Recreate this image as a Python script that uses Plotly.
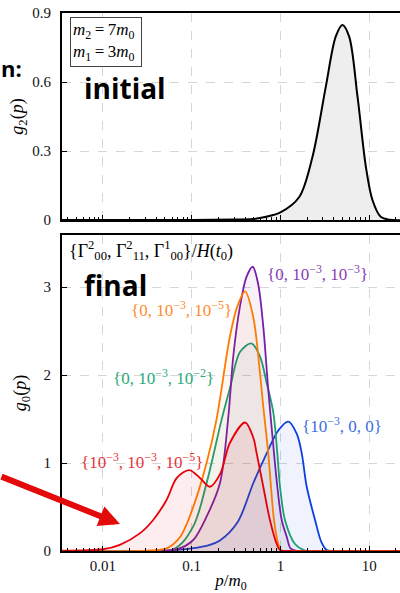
import plotly.graph_objects as go

# ---------------- data ----------------
p_init = [0.003, 0.1, 0.3, 0.49, 0.69, 1.0, 1.63, 2.3, 3.25, 4.2, 5.0, 5.96, 7.4, 9.2, 10.9, 13.5, 17, 25]
g_init = [0, 0.0005, 0.002, 0.004, 0.014, 0.033, 0.10, 0.275, 0.58, 0.797, 0.848, 0.797, 0.536, 0.23, 0.087, 0.014, 0.001, 0]

p_blue = [0.003, 0.05, 0.1, 0.16, 0.208, 0.33, 0.494, 0.70, 0.946, 1.23, 1.53, 1.74, 1.98, 2.46, 2.9, 3.33, 4.0, 25]
g_blue = [0, 0.005, 0.03, 0.07, 0.12, 0.33, 0.77, 1.11, 1.37, 1.47, 1.33, 1.11, 0.73, 0.35, 0.10, 0.01, 0, 0]

p_green = [0.003, 0.062, 0.104, 0.147, 0.217, 0.27, 0.35, 0.47, 0.589, 0.70, 0.83, 0.923, 0.99, 1.128, 1.46, 1.89, 2.5, 25]
g_green = [0, 0.02, 0.28, 0.77, 1.49, 1.85, 2.26, 2.36, 2.21, 1.91, 1.58, 1.11, 0.73, 0.35, 0.08, 0.005, 0, 0]

p_purple = [0.003, 0.068, 0.104, 0.147, 0.208, 0.26, 0.294, 0.35, 0.417, 0.487, 0.56, 0.641, 0.73, 0.847, 0.923, 1.035, 1.18, 1.3, 1.53, 2.0, 25]
g_purple = [0, 0.02, 0.125, 0.39, 0.77, 1.55, 2.21, 2.78, 3.12, 3.23, 3.04, 2.55, 1.83, 1.11, 0.73, 0.35, 0.16, 0.03, 0.002, 0, 0]

p_orange = [0.003, 0.03, 0.052, 0.074, 0.104, 0.147, 0.19, 0.27, 0.327, 0.40, 0.494, 0.589, 0.641, 0.73, 0.783, 0.847, 0.946, 1.035, 1.3, 25]
g_orange = [0, 0.004, 0.03, 0.16, 0.50, 1.0, 1.49, 2.44, 2.78, 2.95, 2.66, 2.02, 1.64, 1.11, 0.73, 0.35, 0.08, 0.005, 0, 0]

p_red = [0.003, 0.01, 0.0155, 0.026, 0.0366, 0.052, 0.068, 0.094, 0.124, 0.16, 0.21, 0.27, 0.40, 0.494, 0.54, 0.641, 0.763, 0.909, 0.99, 1.2, 25]
g_red = [0.003, 0.02, 0.07, 0.2, 0.35, 0.58, 0.83, 0.92, 0.83, 0.73, 0.88, 1.23, 1.46, 1.29, 1.11, 0.73, 0.35, 0.08, 0.01, 0, 0]

x_tickvals = [0.01, 0.1, 1, 10]
x_ticktext = ["0.01", "0.1", "1", "10"]
y_top_ticks = [0, 0.3, 0.6, 0.9]
y_top_text = ["0", "0.3", "0.6", "0.9"]
y_bot_ticks = [0, 1, 2, 3]
y_bot_text = ["0", "1", "2", "3"]

labels = {
    "purple": "{0, 10<sup>−3</sup>, 10<sup>−3</sup>}",
    "orange": "{0, 10<sup>−3</sup>, 10<sup>−5</sup>}",
    "green": "{0, 10<sup>−3</sup>, 10<sup>−2</sup>}",
    "blue": "{10<sup>−3</sup>, 0, 0}",
    "red": "{10<sup>−3</sup>, 10<sup>−3</sup>, 10<sup>−5</sup>}",
}

# ---------------- styling ----------------
SERIF = "Liberation Serif"
SANS = "Open Sans"
W, H = 400, 593
# plot-area edges in pixels
SL, SR, ST, SB = 62, 400, 13, 551


def px(xp):
    return (xp - SL) / (SR - SL)


def py(yp):
    return (SB - yp) / (SB - ST)


line_col = {"blue": "#0a3fe0", "green": "#1b9e72", "purple": "#7a1ea6",
            "orange": "#ff7a00", "red": "#e6000a"}
fill_col = {"blue": "rgba(40,90,230,0.07)", "green": "rgba(30,160,110,0.05)",
            "purple": "rgba(120,30,160,0.06)", "orange": "rgba(255,120,0,0.05)",
            "red": "rgba(230,0,10,0.07)"}
label_col = {"blue": "#3a6ee6", "green": "#2aaa7c", "purple": "#8a3cb4",
             "orange": "#ff8c2e", "red": "#e8323a"}

fig = go.Figure()

# top panel
fig.add_trace(go.Scatter(x=p_init, y=g_init, mode="lines", line=dict(color="black", width=2, shape="spline", smoothing=0.9),
                         fill="tozeroy", fillcolor="#eeeeee", xaxis="x2", yaxis="y2", showlegend=False))

series = [("blue", p_blue, g_blue), ("green", p_green, g_green), ("purple", p_purple, g_purple),
          ("orange", p_orange, g_orange), ("red", p_red, g_red)]
for name, pp, gg in series:
    fig.add_trace(go.Scatter(x=pp, y=gg, mode="lines",
                             line=dict(color=line_col[name], width=1.8, shape="spline", smoothing=0.9),
                             fill="tozeroy", fillcolor=fill_col[name], xaxis="x", yaxis="y", showlegend=False))

xr = [-2.462, 1.348]
ax_common = dict(showline=True, linecolor="black", linewidth=1.8, ticks="inside", tickcolor="black",
                 ticklen=5, tickwidth=1.2, showgrid=True, gridcolor="#d6d6d6", griddash="dash",
                 gridwidth=1, zeroline=False, automargin=False, ticklabeloverflow="allow",
                 tickfont=dict(family=SERIF, size=15, color="#111"))
x_common = dict(ax_common, type="log", range=xr, tickvals=x_tickvals, ticktext=x_ticktext, mirror=True,
                minor=dict(ticks="inside", ticklen=3, tickwidth=1, tickcolor="black", showgrid=False, dtick="D1"))

top_dom = [py(220), 1.0]
bot_dom = [0.0, py(235)]
tfont = dict(family=SERIF, size=18, color="black")

fig.update_layout(
    width=W, height=H,
    margin=dict(l=SL, r=W - SR, t=ST, b=H - SB, autoexpand=False),
    plot_bgcolor="white", paper_bgcolor="white",
    xaxis=dict(x_common, domain=[0, 1], anchor="y", showticklabels=True,
               title=dict(text="<i>p</i>/<i>m</i><sub>0</sub>", font=dict(family=SERIF, size=17, color="black"), standoff=2)),
    yaxis=dict(ax_common, domain=bot_dom, anchor="x", range=[0, (SB - 235) / 88.0], tickvals=y_bot_ticks,
               ticktext=y_bot_text, mirror=False, ticklabelstandoff=6,
               title=dict(text="<i>g</i><sub>0</sub>(<i>p</i>)", font=tfont, standoff=12)),
    xaxis2=dict(x_common, domain=[0, 1], anchor="y2", matches="x", showticklabels=False),
    yaxis2=dict(ax_common, domain=top_dom, anchor="x2", range=[0, 0.9], tickvals=y_top_ticks,
                ticktext=y_top_text, mirror=False, ticklabelstandoff=6,
                title=dict(text="<i>g</i><sub>2</sub>(<i>p</i>)", font=tfont, standoff=4)),
)

ann = []
# panel words
ann.append(dict(text="<b>initial</b>", x=px(82), y=py(88), xanchor="left", yanchor="middle",
                font=dict(family=SANS, size=28, color="black")))
ann.append(dict(text="<b>final</b>", x=px(82), y=py(285), xanchor="left", yanchor="middle",
                font=dict(family=SANS, size=28, color="black")))
ann.append(dict(text="<b>n:</b>", x=px(24), y=py(68), xanchor="right", yanchor="middle",
                font=dict(family=SANS, size=22, color="black")))
# mass box
ann.append(dict(text="<i>m</i><sub>2</sub>&#8201;=&#8201;7<i>m</i><sub>0</sub> <br><i>m</i><sub>1</sub>&#8201;=&#8201;3<i>m</i><sub>0</sub> ",
                x=px(70), y=py(17), xanchor="left", yanchor="top", align="left",
                font=dict(family=SERIF, size=17, color="black"), bordercolor="#444", borderwidth=1,
                borderpad=2, bgcolor="white"))
# gamma header
ann.append(dict(text="{Γ<sup>2</sup><sub>00</sub>, Γ<sup>2</sup><sub>11</sub>, Γ<sup>1</sup><sub>00</sub>}/<i>H</i>(<i>t</i><sub>0</sub>)",
                x=px(67), y=py(250), xanchor="left", yanchor="middle",
                font=dict(family=SERIF, size=18, color="black")))
# series labels
lab_pos = {"purple": (265, 273, "left"), "orange": (234, 309, "right"), "green": (216, 377, "right"),
           "blue": (300, 425, "left"), "red": (205, 461, "right")}
for name, (lx, ly, anc) in lab_pos.items():
    ann.append(dict(text=labels[name], x=px(lx), y=py(ly), xanchor=anc, yanchor="middle",
                    font=dict(family=SERIF, size=17, color=label_col[name])))
# red arrow
ann.append(dict(text="", x=px(120), y=py(524), ax=-124, ay=-48, xref="paper", yref="paper",
                showarrow=True, arrowhead=2, arrowsize=0.7, arrowwidth=6, arrowcolor="#e30a0a"))

for a in ann:
    a.setdefault("xref", "paper")
    a.setdefault("yref", "paper")
    a.setdefault("showarrow", False)
fig.update_layout(annotations=ann)

# remove the browser's default body margin so the figure sits at the page corner
fig.write_html("out.html", config={"displayModeBar": False},
               post_script="document.body.style.margin='0';")
